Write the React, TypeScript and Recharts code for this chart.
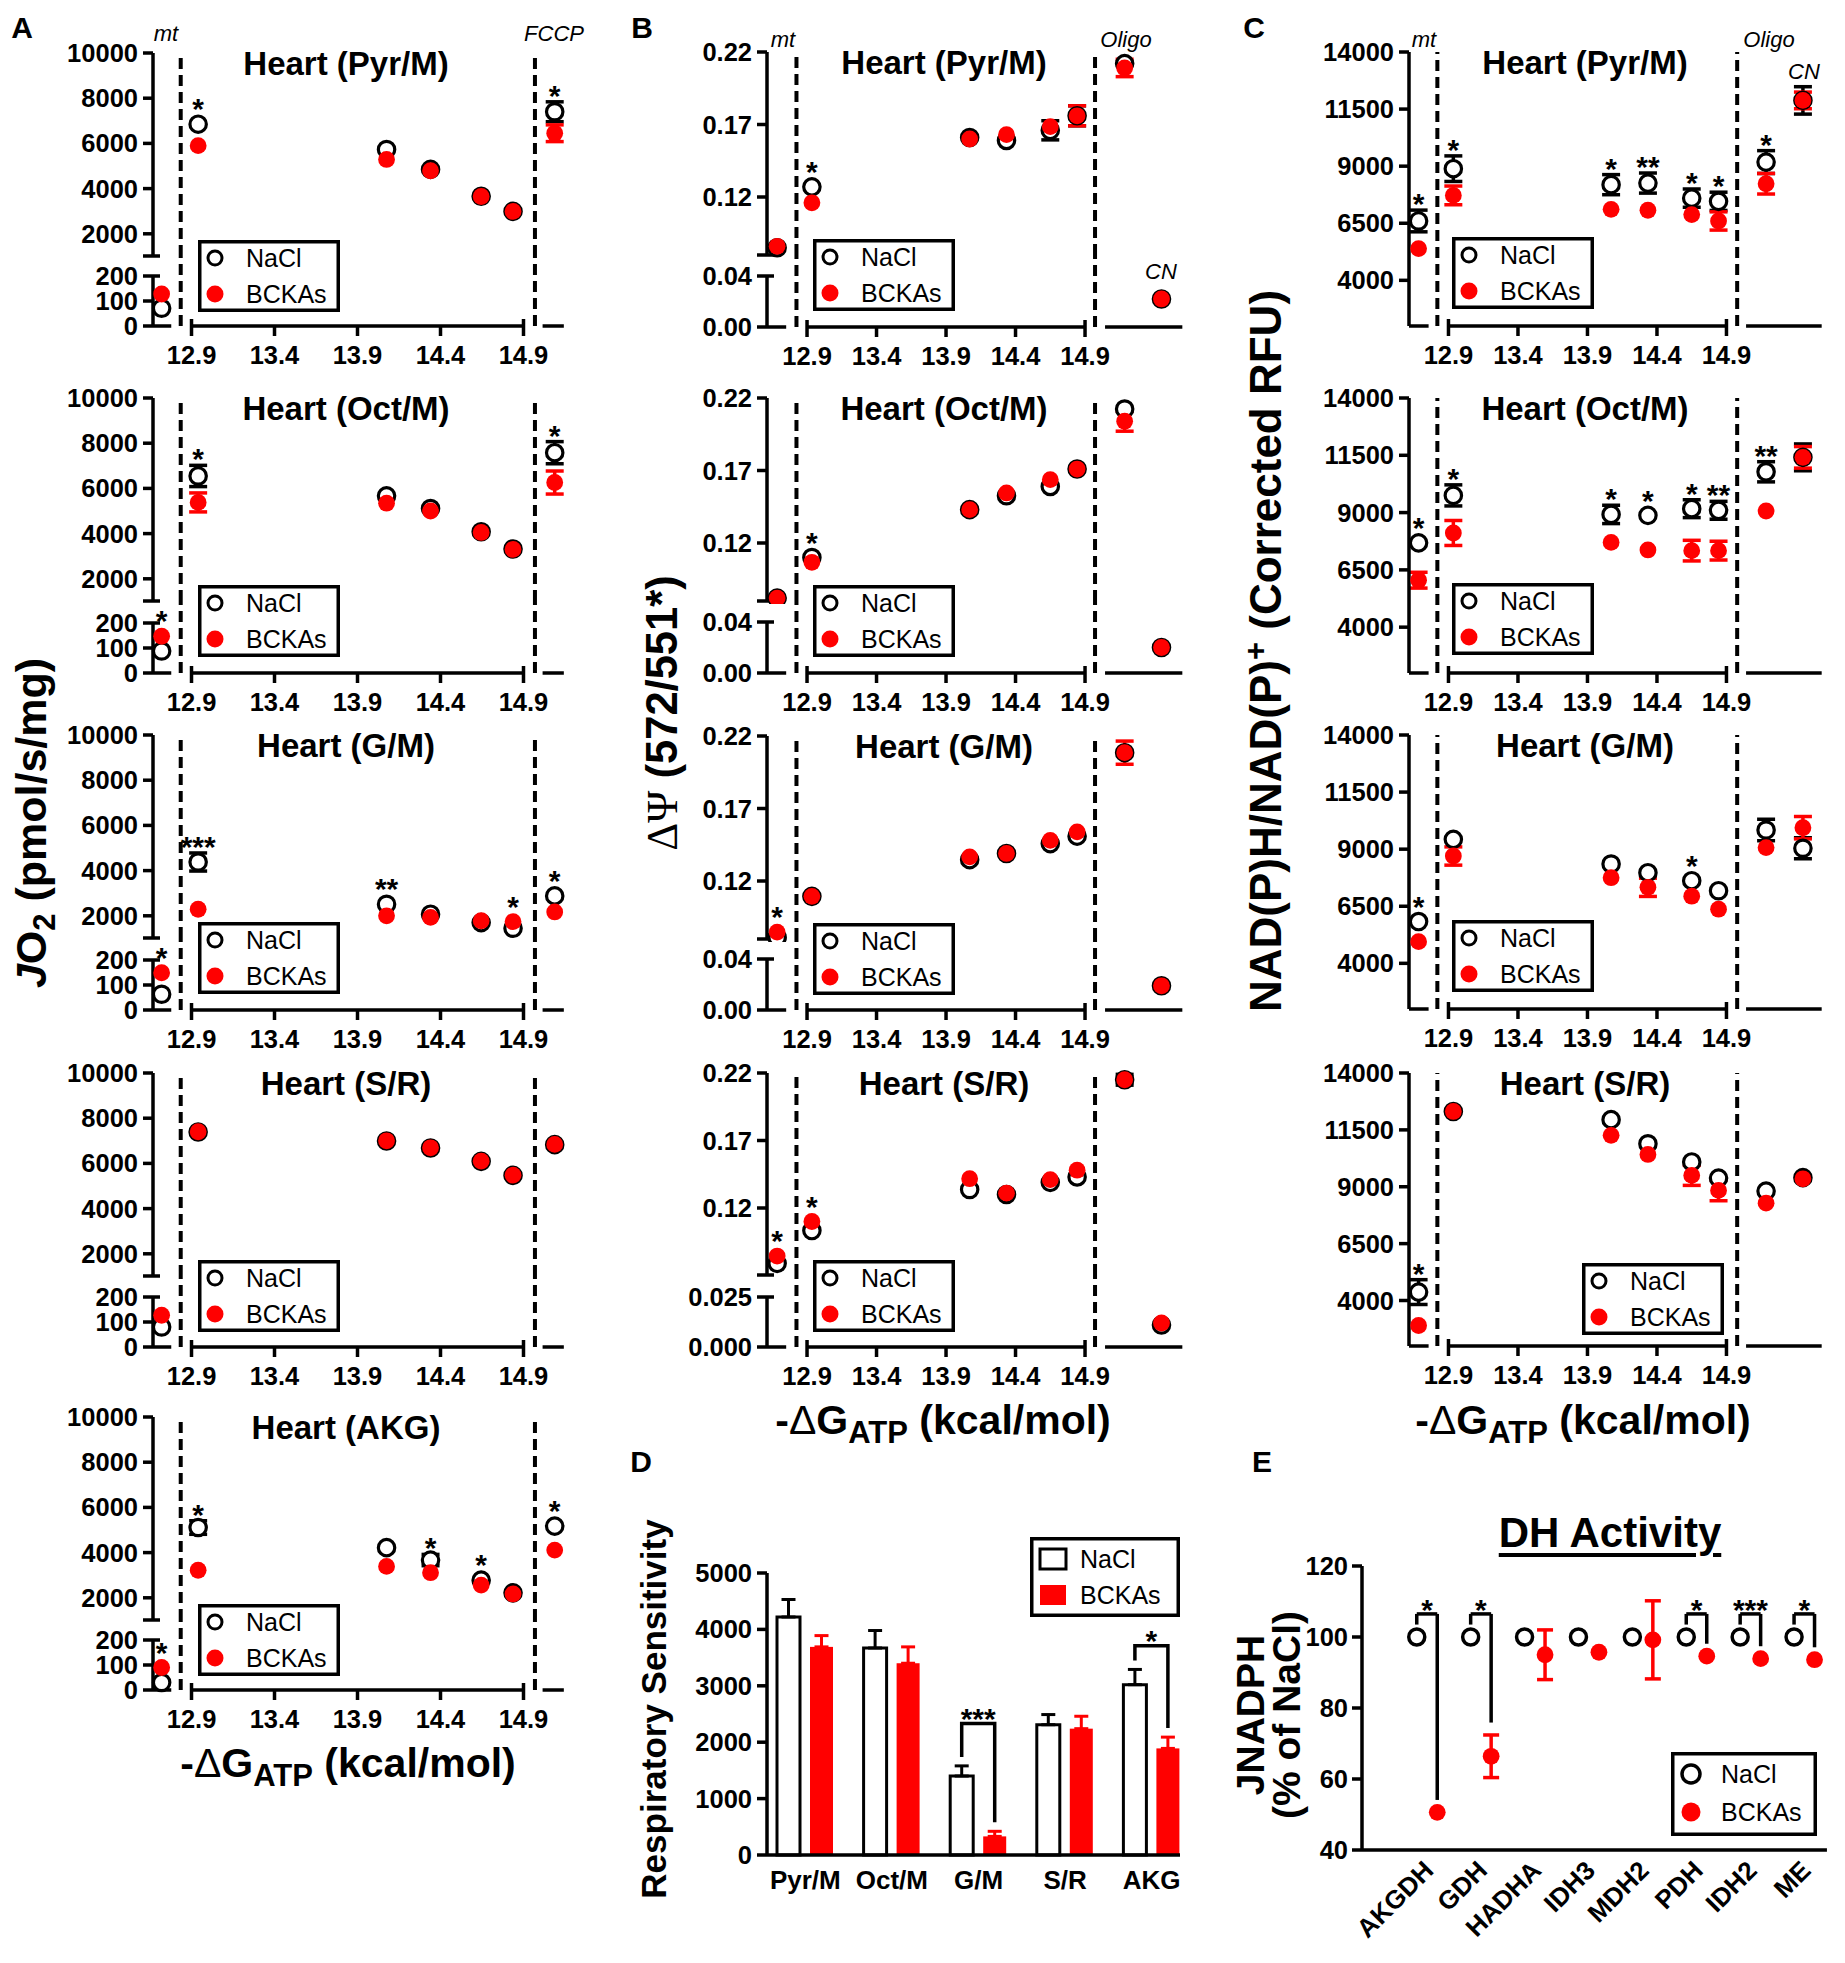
import React from "react";
import {
  Bar,
  BarChart,
  ErrorBar,
  Legend,
  ReferenceLine,
  Scatter,
  ScatterChart,
  XAxis,
  YAxis,
} from "recharts";

const FONT = '"Liberation Sans", Arial, Helvetica, sans-serif';
const RED = "#ff0000";
const INK = "#000000";
const YW = 95;
const XH = 52;
const MR = 14;
const TICK = { fill: INK, fontSize: 25.5, fontWeight: 700, fontFamily: FONT };
const CAT_TICK = { fill: INK, fontSize: 26, fontWeight: 700, fontFamily: FONT };
const AXIS = { stroke: INK, strokeWidth: 3.5 };
const TLINE = { stroke: INK, strokeWidth: 3.5 };

/* ---------------- data ---------------- */
const X_TICKS = [12.9, 13.4, 13.9, 14.4, 14.9];
// -ΔG_ATP position of each state. A: mt, 5 clamp steps, FCCP
const XA = [12.72, 12.94, 14.075, 14.34, 14.645, 14.837, 15.088];
// B and C: mt, 5 clamp steps, Oligo, CN
const XBC = [12.685, 12.935, 14.07, 14.335, 14.65, 14.843, 15.185, 15.45];

// A: JO2 (pmol/s/mg)
const A_TITLES = ["Heart (Pyr/M)", "Heart (Oct/M)", "Heart (G/M)", "Heart (S/R)", "Heart (AKG)"];
const A_PYR_N = [71, 6850, 5730, 4850, 3660, 2990, 7400];
const A_PYR_NE = [0, 0, 0, 0, 0, 0, 440];
const A_PYR_B = [128, 5900, 5290, 4790, 3650, 2990, 6450];
const A_PYR_BE = [0, 0, 0, 0, 0, 0, 370];
const A_PYR_SIG = ["", "*", "", "", "", "", "*"];

const A_OCT_N = [88, 6550, 5670, 5110, 4080, 3320, 7580];
const A_OCT_NE = [0, 470, 0, 0, 0, 0, 490];
const A_OCT_B = [147, 5380, 5345, 5000, 4050, 3300, 6260];
const A_OCT_BE = [0, 420, 0, 0, 0, 0, 510];
const A_OCT_SIG = ["*", "*", "", "", "", "", "*"];

const A_GM_N = [63, 4380, 2510, 2070, 1700, 1450, 2880];
const A_GM_NE = [0, 400, 0, 0, 0, 0, 0];
const A_GM_B = [149, 2290, 2000, 1930, 1780, 1740, 2170];
const A_GM_BE = [0, 0, 0, 0, 0, 0, 0];
const A_GM_SIG = ["*", "***", "**", "", "", "*", "*"];

const A_SR_N = [80, 7390, 6990, 6680, 6090, 5470, 6830];
const A_SR_NE = [0, 0, 0, 0, 0, 0, 0];
const A_SR_B = [127, 7400, 7000, 6690, 6100, 5480, 6840];
const A_SR_BE = [0, 0, 0, 0, 0, 0, 0];
const A_SR_SIG = ["", "", "", "", "", "", ""];

const A_AKG_N = [30, 5110, 4220, 3670, 2780, 2220, 5170];
const A_AKG_NE = [0, 300, 0, 250, 0, 0, 0];
const A_AKG_B = [90, 3220, 3390, 3110, 2560, 2170, 4110];
const A_AKG_BE = [0, 0, 0, 0, 0, 0, 0];
const A_AKG_SIG = ["*", "*", "", "*", "*", "", "*"];

// B: ΔΨ (572/551*)
const B_TITLES = ["Heart (Pyr/M)", "Heart (Oct/M)", "Heart (G/M)", "Heart (S/R)"];
const B_PYR_N = [0.085, 0.127, 0.161, 0.159, 0.166, 0.176, 0.212, 0.022];
const B_PYR_NE = [0, 0, 0, 0, 0.0066, 0.0069, 0, 0];
const B_PYR_B = [0.086, 0.116, 0.16, 0.163, 0.1685, 0.176, 0.209, 0.022];
const B_PYR_BE = [0, 0, 0, 0, 0, 0.0069, 0.006, 0];
const B_PYR_SIG = ["", "*", "", "", "", "", "", ""];

const B_OCT_N = [0.082, 0.11, 0.143, 0.1526, 0.159, 0.171, 0.2124, 0.02];
const B_OCT_NE = [0, 0, 0, 0, 0, 0, 0, 0];
const B_OCT_B = [0.082, 0.1067, 0.143, 0.1545, 0.1637, 0.171, 0.204, 0.02];
const B_OCT_BE = [0, 0, 0, 0, 0, 0, 0.0069, 0];
const B_OCT_SIG = ["", "*", "", "", "", "", "", ""];

const B_GM_N = [0.081, 0.1094, 0.1347, 0.139, 0.1458, 0.1509, 0.2085, 0.019];
const B_GM_NE = [0, 0, 0, 0, 0, 0, 0, 0];
const B_GM_B = [0.0847, 0.1094, 0.1366, 0.139, 0.148, 0.1539, 0.2085, 0.019];
const B_GM_BE = [0, 0, 0, 0, 0, 0, 0.008, 0];
const B_GM_SIG = ["*", "", "", "", "", "", "", ""];

const B_SR_N = [0.079, 0.1033, 0.1337, 0.13, 0.139, 0.143, 0.215, 0.011];
const B_SR_NE = [0, 0, 0, 0, 0, 0, 0.004, 0];
const B_SR_B = [0.0844, 0.11, 0.1417, 0.131, 0.141, 0.148, 0.215, 0.012];
const B_SR_BE = [0, 0, 0, 0, 0, 0, 0, 0];
const B_SR_SIG = ["*", "*", "", "", "", "", "", ""];

// C: NAD(P)H/NAD(P)+ (Corrected RFU)
const C_TITLES = ["Heart (Pyr/M)", "Heart (Oct/M)", "Heart (G/M)", "Heart (S/R)"];
const C_PYR_N = [6600, 8890, 8190, 8260, 7600, 7460, 9180, 11880];
const C_PYR_NE = [475, 560, 440, 440, 400, 400, 500, 600];
const C_PYR_B = [5390, 7720, 7110, 7070, 6880, 6600, 8230, 11880];
const C_PYR_BE = [0, 410, 0, 0, 0, 400, 450, 365];
const C_PYR_SIG = ["*", "*", "*", "**", "*", "*", "*", ""];

const C_OCT_N = [7680, 9750, 8920, 8880, 9170, 9100, 10780, 11410];
const C_OCT_NE = [0, 460, 400, 0, 390, 390, 440, 585];
const C_OCT_B = [6050, 8110, 7700, 7370, 7340, 7340, 9070, 11410];
const C_OCT_BE = [345, 545, 0, 0, 450, 410, 0, 470];
const C_OCT_SIG = ["*", "*", "*", "*", "*", "**", "**", ""];

const C_GM_N = [5830, 9430, 8350, 7970, 7620, 7180, 9840, 9040];
const C_GM_NE = [0, 0, 0, 0, 0, 0, 470, 460];
const C_GM_B = [4950, 8700, 7750, 7330, 6940, 6370, 9070, 9940];
const C_GM_BE = [0, 400, 0, 400, 0, 0, 0, 490];
const C_GM_SIG = ["*", "", "", "", "*", "", "", ""];

const C_SR_N = [4370, 12310, 11950, 10890, 10090, 9380, 8810, 9400];
const C_SR_NE = [545, 0, 0, 0, 0, 0, 0, 0];
const C_SR_B = [2900, 12310, 11260, 10420, 9500, 8840, 8280, 9350];
const C_SR_BE = [0, 0, 0, 0, 440, 455, 0, 0];
const C_SR_SIG = ["*", "", "", "", "", "", "", ""];

// D: respiratory sensitivity
const D_CATS = ["Pyr/M", "Oct/M", "G/M", "S/R", "AKG"];
const D_NACL = [4220, 3670, 1400, 2310, 3020];
const D_NACL_ERR = [310, 310, 180, 180, 270];
const D_BCKA = [3690, 3400, 330, 2240, 1890];
const D_BCKA_ERR = [200, 290, 90, 220, 200];
const D_SIG = ["", "", "***", "", "*"];
const D_BRACKET = [0, 0, 2330, 0, 3710];

// E: DH activity, JNADPH (% of NaCl)
const E_CATS = ["AKGDH", "GDH", "HADHA", "IDH3", "MDH2", "PDH", "IDH2", "ME"];
const E_NACL = [100, 100, 100, 100, 100, 100, 100, 100];
const E_BCKA = [50.6, 66.4, 95, 95.7, 99.2, 94.6, 93.9, 93.6];
const E_BCKA_ERR = [0, 6, 7, 0, 11, 0, 0, 0];
const E_SIG = ["*", "*", "", "", "", "*", "***", "*"];

type Series = { n: number[]; ne: number[]; b: number[]; be: number[]; sig: string[] };
const A_ROWS: Series[] = [
  { n: A_PYR_N, ne: A_PYR_NE, b: A_PYR_B, be: A_PYR_BE, sig: A_PYR_SIG },
  { n: A_OCT_N, ne: A_OCT_NE, b: A_OCT_B, be: A_OCT_BE, sig: A_OCT_SIG },
  { n: A_GM_N, ne: A_GM_NE, b: A_GM_B, be: A_GM_BE, sig: A_GM_SIG },
  { n: A_SR_N, ne: A_SR_NE, b: A_SR_B, be: A_SR_BE, sig: A_SR_SIG },
  { n: A_AKG_N, ne: A_AKG_NE, b: A_AKG_B, be: A_AKG_BE, sig: A_AKG_SIG },
];
const B_ROWS: Series[] = [
  { n: B_PYR_N, ne: B_PYR_NE, b: B_PYR_B, be: B_PYR_BE, sig: B_PYR_SIG },
  { n: B_OCT_N, ne: B_OCT_NE, b: B_OCT_B, be: B_OCT_BE, sig: B_OCT_SIG },
  { n: B_GM_N, ne: B_GM_NE, b: B_GM_B, be: B_GM_BE, sig: B_GM_SIG },
  { n: B_SR_N, ne: B_SR_NE, b: B_SR_B, be: B_SR_BE, sig: B_SR_SIG },
];
const C_ROWS: Series[] = [
  { n: C_PYR_N, ne: C_PYR_NE, b: C_PYR_B, be: C_PYR_BE, sig: C_PYR_SIG },
  { n: C_OCT_N, ne: C_OCT_NE, b: C_OCT_B, be: C_OCT_BE, sig: C_OCT_SIG },
  { n: C_GM_N, ne: C_GM_NE, b: C_GM_B, be: C_GM_BE, sig: C_GM_SIG },
  { n: C_SR_N, ne: C_SR_NE, b: C_SR_B, be: C_SR_BE, sig: C_SR_SIG },
];

/* ---------------- layout ---------------- */
const A_TOP = [53, 398, 735, 1073, 1417];
const A_ZERO = [326, 673, 1010, 1347, 1690];
const B_TOP = [52, 398, 736, 1073];
const B_ZERO = [327, 673, 1010, 1347];
const C_TOP = [52, 398, 735, 1073];
const C_ZERO = [326, 673, 1009, 1346];

const A_LEFT = 152.7;
const A_XD: [number, number] = [12.668, 15.2];
const A_PX = 166;
const B_LEFT = 766.7;
const B_XD: [number, number] = [12.612, 15.62];
const C_LEFT = 1408.7;
const C_XD: [number, number] = [12.616, 15.62];
const BC_PX = 139;

/* ---------------- shapes ---------------- */
const Ring = (s: any) =>
  s.cx == null ? null : <circle cx={s.cx} cy={s.cy} r={8.2} fill="#fff" stroke={INK} strokeWidth={3.2} />;
const Dot = (s: any) => (s.cx == null ? null : <circle cx={s.cx} cy={s.cy} r={8.4} fill={RED} />);
const Star = (s: any) => {
  if (s.cx == null) return null;
  const top = s.cy - (s.payload.err ? 1 : 9.8);
  return (
    <text x={s.cx} y={top + 5} textAnchor="middle" fontSize={30} fontWeight={700} fontFamily={FONT} fill={INK}>
      {s.payload.s}
    </text>
  );
};

const ScatterKey = () => (
  <svg width={142} height={72} style={{ display: "block" }}>
    <rect x={1.75} y={1.75} width={138.5} height={68.5} fill="#fff" stroke={INK} strokeWidth={3.5} />
    <circle cx={17} cy={18} r={7} fill="#fff" stroke={INK} strokeWidth={3} />
    <text x={48} y={27} fontSize={25} fontFamily={FONT} fill={INK}>NaCl</text>
    <circle cx={17} cy={54} r={8.5} fill={RED} />
    <text x={48} y={63} fontSize={25} fontFamily={FONT} fill={INK}>BCKAs</text>
  </svg>
);

function pts(xs: number[], v: number[], e: number[], idx: number[]) {
  return idx.map((i) => ({ x: xs[i], y: v[i], e: e[i] }));
}
function starPts(xs: number[], s: Series, idx: number[]) {
  return idx
    .filter((i) => s.sig[i])
    .map((i) => {
      const tn = s.n[i] + s.ne[i];
      const tb = s.b[i] + s.be[i];
      return { x: xs[i], y: Math.max(tn, tb), s: s.sig[i], err: (tn >= tb ? s.ne[i] : s.be[i]) > 0 };
    });
}

type BandProps = {
  left: number;
  top: number;
  w: number;
  h: number;
  xDomain: [number, number];
  yDomain: [number, number];
  yTicks: number[];
  fmt: (v: number) => string;
  yAxisLine: boolean;
  ySeg?: [number, number];
  rightCaps: number[];
  showX: boolean;
  xSegs: [number, number][];
  dashes: number[];
  nacl: any[];
  bcka: any[];
  stars: any[];
  mt: number;
  mb: number;
  legend?: { x: number; y: number };
};

function Band(p: BandProps) {
  const chartW = YW + p.w + MR;
  const chartH = p.mt + p.h + (p.showX ? XH : p.mb);
  const pxX = p.w / (p.xDomain[1] - p.xDomain[0]);
  const pxY = p.h / (p.yDomain[1] - p.yDomain[0]);
  const x0 = p.xDomain[0];
  const y0 = p.yDomain[0];
  const capDX = 7 / pxX;
  const upDY = 7 / pxY;
  const cLeft = p.left - YW;
  const cTop = p.top - p.mt;
  return (
    <div style={{ position: "absolute", left: cLeft, top: cTop }}>
      <ScatterChart
        width={chartW}
        height={chartH}
        margin={{ top: p.mt, right: MR, bottom: p.showX ? 0 : p.mb, left: 0 }}
      >
        <XAxis
          type="number"
          dataKey="x"
          domain={p.xDomain}
          hide={!p.showX}
          ticks={X_TICKS}
          interval={0}
          axisLine={false}
          tickLine={TLINE}
          tickSize={10}
          tickMargin={10}
          height={XH}
          tick={TICK}
          tickFormatter={(v: number) => v.toFixed(1)}
        />
        <YAxis
          type="number"
          dataKey="y"
          domain={p.yDomain}
          ticks={p.yTicks}
          interval={0}
          width={YW}
          axisLine={p.yAxisLine ? AXIS : false}
          tickLine={TLINE}
          tickSize={10}
          tickMargin={5}
          tick={TICK}
          tickFormatter={p.fmt}
        />
        {p.dashes.map((d) => (
          <ReferenceLine key={"d" + d} x={d} stroke={INK} strokeWidth={4} strokeDasharray="11 6" ifOverflow="visible" />
        ))}
        {p.ySeg && (
          <ReferenceLine
            segment={[
              { x: x0, y: p.ySeg[0] },
              { x: x0, y: p.ySeg[1] },
            ]}
            stroke={INK}
            strokeWidth={3.5}
            ifOverflow="visible"
          />
        )}
        {p.rightCaps.map((c) => (
          <ReferenceLine
            key={"c" + c}
            segment={[
              { x: x0, y: c },
              { x: x0 + capDX, y: c },
            ]}
            stroke={INK}
            strokeWidth={3.5}
            ifOverflow="visible"
          />
        ))}
        {p.xSegs.map((s, i) => (
          <ReferenceLine
            key={"s" + i}
            segment={[
              { x: s[0], y: y0 },
              { x: s[1], y: y0 },
            ]}
            stroke={INK}
            strokeWidth={3.5}
            ifOverflow="visible"
          />
        ))}
        {p.showX &&
          [12.9, 14.9].map((t) => (
            <ReferenceLine
              key={"u" + t}
              segment={[
                { x: t, y: y0 },
                { x: t, y: y0 + upDY },
              ]}
              stroke={INK}
              strokeWidth={3.5}
              ifOverflow="visible"
            />
          ))}
        <Scatter data={p.nacl} shape={Ring} isAnimationActive={false}>
          <ErrorBar dataKey="e" direction="y" width={9} stroke={INK} strokeWidth={3.5} />
        </Scatter>
        <Scatter data={p.bcka} shape={Dot} isAnimationActive={false}>
          <ErrorBar dataKey="e" direction="y" width={9} stroke={RED} strokeWidth={3.5} />
        </Scatter>
        <Scatter data={p.stars} shape={Star} isAnimationActive={false} />
        {p.legend && (
          <Legend
            layout="vertical"
            align="center"
            verticalAlign="middle"
            wrapperStyle={{ left: p.legend.x - cLeft, top: p.legend.y - cTop, width: 142, height: 72, zIndex: 3 }}
            content={() => <ScatterKey />}
          />
        )}
      </ScatterChart>
    </div>
  );
}

const Txt = ({ x, y, size, children, style }: any) => (
  <div
    style={{
      position: "absolute",
      left: x,
      top: y,
      transform: "translate(-50%, -50%)",
      whiteSpace: "nowrap",
      fontFamily: FONT,
      fontSize: size,
      fontWeight: 700,
      lineHeight: 1,
      color: INK,
      ...style,
    }}
  >
    {children}
  </div>
);
const VTxt = ({ x, y, size, children, style }: any) => (
  <Txt x={x} y={y} size={size} style={{ transform: "translate(-50%, -50%) rotate(-90deg)", ...style }}>
    {children}
  </Txt>
);
const Italic = ({ x, y, children }: any) => (
  <Txt x={x} y={y} size={22} style={{ fontWeight: 400, fontStyle: "italic" }}>
    {children}
  </Txt>
);

const fmtInt = (cap: number) => (v: number) => (Math.abs(v - cap) < 1e-6 ? "" : String(v));
const fmtDec = (cap: number, d: number) => (v: number) => (Math.abs(v - cap) < 1e-9 ? "" : v.toFixed(d));

function PanelA({ r }: { r: number }) {
  const s = A_ROWS[r];
  const T = A_TOP[r];
  const Z = A_ZERO[r];
  const upH = 203;
  const cap = 10000 - (upH / 22.6) * 1000;
  const lowH = Z - T - upH;
  const w = (A_XD[1] - A_XD[0]) * A_PX;
  const up = [1, 2, 3, 4, 5, 6];
  const low = [0];
  const dashes = [12.835, 14.969];
  return (
    <>
      <Band
        left={A_LEFT}
        top={T}
        w={w}
        h={upH}
        xDomain={A_XD}
        yDomain={[cap, 10000]}
        yTicks={[cap, 2000, 4000, 6000, 8000, 10000]}
        fmt={fmtInt(cap)}
        yAxisLine
        rightCaps={[cap]}
        showX={false}
        xSegs={[]}
        dashes={dashes}
        nacl={pts(XA, s.n, s.ne, up)}
        bcka={pts(XA, s.b, s.be, up)}
        stars={starPts(XA, s, up)}
        mt={18}
        mb={3}
        legend={{ x: 198, y: T + 187 }}
      />
      <Band
        left={A_LEFT}
        top={T + upH}
        w={w}
        h={lowH}
        xDomain={A_XD}
        yDomain={[0, lowH * 4]}
        yTicks={[0, 100, 200]}
        fmt={(v) => String(v)}
        yAxisLine={false}
        ySeg={[0, 200]}
        rightCaps={[200]}
        showX
        xSegs={[
          [A_XD[0], 12.778],
          [12.9, 14.9],
          [15.015, 15.143],
        ]}
        dashes={dashes}
        nacl={pts(XA, s.n, s.ne, low)}
        bcka={pts(XA, s.b, s.be, low)}
        stars={starPts(XA, s, low)}
        mt={0}
        mb={0}
      />
      <Txt x={346} y={T + 10} size={33}>
        {A_TITLES[r]}
      </Txt>
    </>
  );
}

function PanelB({ r }: { r: number }) {
  const s = B_ROWS[r];
  const T = B_TOP[r];
  const Z = B_ZERO[r];
  const last = r === 3;
  const upH = last ? 202 : 203;
  const upPx = last ? 1350 : 1450;
  const cap = 0.22 - upH / upPx;
  const lowH = Z - T - upH;
  const lowPx = last ? 2000 : 1275;
  const lowTop = last ? 0.025 : 0.04;
  const w = (B_XD[1] - B_XD[0]) * BC_PX;
  const up = [0, 1, 2, 3, 4, 5, 6];
  const low = [7];
  const dashes = [12.824, 14.972];
  return (
    <>
      <Band
        left={B_LEFT}
        top={T}
        w={w}
        h={upH}
        xDomain={B_XD}
        yDomain={[cap, 0.22]}
        yTicks={[cap, 0.12, 0.17, 0.22]}
        fmt={fmtDec(cap, 2)}
        yAxisLine
        rightCaps={[cap]}
        showX={false}
        xSegs={[]}
        dashes={dashes}
        nacl={pts(XBC, s.n, s.ne, up)}
        bcka={pts(XBC, s.b, s.be, up)}
        stars={starPts(XBC, s, up)}
        mt={18}
        mb={3}
        legend={{ x: 813, y: T + 187 }}
      />
      <Band
        left={B_LEFT}
        top={T + upH}
        w={w}
        h={lowH}
        xDomain={B_XD}
        yDomain={[0, lowH / lowPx]}
        yTicks={[0, lowTop]}
        fmt={(v) => v.toFixed(last ? 3 : 2)}
        yAxisLine={false}
        ySeg={[0, lowTop]}
        rightCaps={[lowTop]}
        showX
        xSegs={[
          [B_XD[0], 12.75],
          [12.9, 14.9],
          [15.044, 15.6],
        ]}
        dashes={dashes}
        nacl={pts(XBC, s.n, s.ne, low)}
        bcka={pts(XBC, s.b, s.be, low)}
        stars={starPts(XBC, s, low)}
        mt={0}
        mb={0}
      />
      <Txt x={944} y={T + 10} size={33}>
        {B_TITLES[r]}
      </Txt>
    </>
  );
}

function PanelC({ r }: { r: number }) {
  const s = C_ROWS[r];
  const T = C_TOP[r];
  const Z = C_ZERO[r];
  const w = (C_XD[1] - C_XD[0]) * BC_PX;
  const all = [0, 1, 2, 3, 4, 5, 6, 7];
  return (
    <>
      <Band
        left={C_LEFT}
        top={T}
        w={w}
        h={Z - T}
        xDomain={C_XD}
        yDomain={[2000, 14000]}
        yTicks={[4000, 6500, 9000, 11500, 14000]}
        fmt={(v) => String(v)}
        yAxisLine
        rightCaps={[]}
        showX
        xSegs={[
          [C_XD[0], 12.757],
          [12.9, 14.9],
          [15.041, 15.585],
        ]}
        dashes={[12.82, 14.977]}
        nacl={pts(XBC, s.n, s.ne, all)}
        bcka={pts(XBC, s.b, s.be, all)}
        stars={starPts(XBC, s, all)}
        mt={18}
        mb={0}
        legend={r === 3 ? { x: 1582, y: T + 190 } : { x: 1452, y: T + 185 }}
      />
      <Txt x={1585} y={T + 10} size={33}>
        {C_TITLES[r]}
      </Txt>
    </>
  );
}

/* ---------------- D ---------------- */
const dData = D_CATS.map((c, i) => ({
  cat: c,
  n: D_NACL[i],
  ne: [0, D_NACL_ERR[i]],
  b: D_BCKA[i],
  be: [0, D_BCKA_ERR[i]],
  sig: D_SIG[i],
  br: D_BRACKET[i],
}));

const BckaBar = (p: any) => {
  const { x, y, width, height, payload } = p;
  if (x == null) return null;
  const parts: any[] = [<rect key="r" x={x} y={y} width={width} height={height} fill={RED} />];
  if (payload.sig) {
    const k = height / payload.b;
    const base = y + height;
    const nTop = base - (payload.n + payload.ne[1]) * k;
    const bTop = base - (payload.b + payload.be[1]) * k;
    const nx = x - 10 - width / 2;
    const bx = x + width / 2;
    const hy = base - payload.br * k;
    parts.push(
      <path
        key="k"
        d={`M${nx},${nTop - 9} V${hy} H${bx} V${bTop - 9}`}
        fill="none"
        stroke={INK}
        strokeWidth={3.5}
      />,
      <text
        key="t"
        x={(nx + bx) / 2}
        y={hy + 5}
        textAnchor="middle"
        fontSize={30}
        fontWeight={700}
        fontFamily={FONT}
        fill={INK}
      >
        {payload.sig}
      </text>
    );
  }
  return <g>{parts}</g>;
};

const BarKey = () => (
  <svg width={150} height={80} style={{ display: "block" }}>
    <rect x={1.75} y={1.75} width={146.5} height={76.5} fill="#fff" stroke={INK} strokeWidth={3.5} />
    <rect x={10} y={12} width={26} height={20} fill="#fff" stroke={INK} strokeWidth={3} />
    <text x={50} y={31} fontSize={25} fontFamily={FONT} fill={INK}>NaCl</text>
    <rect x={10} y={48} width={26} height={20} fill={RED} />
    <text x={50} y={67} fontSize={25} fontFamily={FONT} fill={INK}>BCKAs</text>
  </svg>
);

function PanelD() {
  const left = 767;
  const top = 1573;
  const h = 282;
  const w = 413;
  const mt = 40;
  return (
    <div style={{ position: "absolute", left: left - YW, top: top - mt }}>
      <BarChart
        width={YW + w + 25}
        height={mt + h + 55}
        data={dData}
        margin={{ top: mt, right: 25, bottom: 0, left: 0 }}
        barGap={10}
        barSize={23}
      >
        <XAxis
          dataKey="cat"
          axisLine={AXIS}
          tickLine={false}
          tick={CAT_TICK}
          height={55}
          tickMargin={10}
          interval={0}
          padding={{ left: -5, right: -15 }}
        />
        <YAxis
          type="number"
          domain={[0, 5000]}
          ticks={[0, 1000, 2000, 3000, 4000, 5000]}
          interval={0}
          width={YW}
          axisLine={AXIS}
          tickLine={TLINE}
          tickSize={10}
          tickMargin={5}
          tick={TICK}
        />
        <Bar dataKey="n" fill="#fff" stroke={INK} strokeWidth={3} isAnimationActive={false}>
          <ErrorBar dataKey="ne" direction="y" width={7} stroke={INK} strokeWidth={3} />
        </Bar>
        <Bar dataKey="b" fill={RED} shape={BckaBar} isAnimationActive={false}>
          <ErrorBar dataKey="be" direction="y" width={7} stroke={RED} strokeWidth={3} />
        </Bar>
        <Legend
          layout="vertical"
          align="center"
          verticalAlign="middle"
          wrapperStyle={{ left: 1030 - (left - YW), top: 1537 - (top - mt), width: 150, height: 80 }}
          content={() => <BarKey />}
        />
      </BarChart>
    </div>
  );
}

/* ---------------- E ---------------- */
const E_OFF = 0.19;
const eNacl = E_CATS.map((_, i) => ({ x: i - E_OFF, y: E_NACL[i], e: 0 }));
const eBcka = E_CATS.map((_, i) => ({ x: i + E_OFF, y: E_BCKA[i], e: E_BCKA_ERR[i] }));
const E_BR = 106.5;
const eStars = E_CATS.map((_, i) => ({ x: i, y: E_BR, s: E_SIG[i] })).filter((d) => d.s);

const ETick = (p: any) => {
  const { x, y, payload } = p;
  const ax = x + 8;
  const ay = y + 14;
  return (
    <text
      x={ax}
      y={ay}
      transform={`rotate(-45 ${ax} ${ay})`}
      textAnchor="end"
      fill={INK}
      fontSize={26}
      fontWeight={700}
      fontFamily={FONT}
    >
      {E_CATS[payload.value]}
    </text>
  );
};

const ERing = (s: any) =>
  s.cx == null ? null : <circle cx={s.cx} cy={s.cy} r={8} fill="#fff" stroke={INK} strokeWidth={3.5} />;
const EStar = (s: any) =>
  s.cx == null ? null : (
    <text x={s.cx} y={s.cy + 6} textAnchor="middle" fontSize={30} fontWeight={700} fontFamily={FONT} fill={INK}>
      {s.payload.s}
    </text>
  );

const EKey = () => (
  <svg width={146} height={84} style={{ display: "block" }}>
    <rect x={1.75} y={1.75} width={142.5} height={80.5} fill="#fff" stroke={INK} strokeWidth={3.5} />
    <circle cx={20} cy={22} r={9} fill="#fff" stroke={INK} strokeWidth={3.5} />
    <text x={50} y={31} fontSize={25} fontFamily={FONT} fill={INK}>NaCl</text>
    <circle cx={20} cy={60} r={9.5} fill={RED} />
    <text x={50} y={69} fontSize={25} fontFamily={FONT} fill={INK}>BCKAs</text>
  </svg>
);

function PanelE() {
  const left = 1362;
  const top = 1566;
  const h = 284;
  const xd: [number, number] = [-1.206, 7.42];
  const w = (xd[1] - xd[0]) * 53.9;
  const mt = 40;
  const seg = (key: string, a: { x: number; y: number }, b: { x: number; y: number }) => (
    <ReferenceLine key={key} segment={[a, b]} stroke={INK} strokeWidth={3.5} ifOverflow="visible" />
  );
  return (
    <div style={{ position: "absolute", left: left - YW, top: top - mt }}>
      <ScatterChart width={YW + w + 10} height={mt + h + 110} margin={{ top: mt, right: 10, bottom: 0, left: 0 }}>
        <XAxis
          type="number"
          dataKey="x"
          domain={xd}
          ticks={[0, 1, 2, 3, 4, 5, 6, 7]}
          interval={0}
          axisLine={AXIS}
          tickLine={false}
          tick={<ETick />}
          height={110}
        />
        <YAxis
          type="number"
          dataKey="y"
          domain={[40, 120]}
          ticks={[40, 60, 80, 100, 120]}
          interval={0}
          width={YW}
          axisLine={AXIS}
          tickLine={TLINE}
          tickSize={10}
          tickMargin={4}
          tick={TICK}
        />
        {E_SIG.flatMap((sg, i) =>
          sg
            ? [
                seg("h" + i, { x: i - E_OFF, y: E_BR }, { x: i + E_OFF, y: E_BR }),
                seg("l" + i, { x: i - E_OFF, y: E_BR }, { x: i - E_OFF, y: 103.5 }),
                seg("r" + i, { x: i + E_OFF, y: E_BR }, { x: i + E_OFF, y: E_BCKA[i] + E_BCKA_ERR[i] + 3.5 }),
              ]
            : []
        )}
        <Scatter data={eNacl} shape={ERing} isAnimationActive={false} />
        <Scatter data={eBcka} shape={Dot} isAnimationActive={false}>
          <ErrorBar dataKey="e" direction="y" width={8} stroke={RED} strokeWidth={3.5} />
        </Scatter>
        <Scatter data={eStars} shape={EStar} isAnimationActive={false} />
        <Legend
          layout="vertical"
          align="center"
          verticalAlign="middle"
          wrapperStyle={{ left: 1671 - (left - YW), top: 1752 - (top - mt), width: 146, height: 84 }}
          content={() => <EKey />}
        />
      </ScatterChart>
    </div>
  );
}

const XTitle = ({ x, y }: { x: number; y: number }) => (
  <Txt x={x} y={y} size={41}>
    -<span style={{ fontWeight: 400 }}>Δ</span>G<sub style={{ fontSize: 31, verticalAlign: "-0.3em" }}>ATP</sub> (kcal/mol)
  </Txt>
);

export default function App() {
  return (
    <div
      style={{
        position: "absolute",
        left: 0,
        top: 0,
        width: 1845,
        height: 1963,
        background: "#fff",
        overflow: "hidden",
        fontFamily: FONT,
      }}
    >
      {/* panel letters */}
      <Txt x={22} y={28} size={30}>A</Txt>
      <Txt x={642} y={28} size={30}>B</Txt>
      <Txt x={1254} y={28} size={30}>C</Txt>
      <Txt x={641} y={1462} size={30}>D</Txt>
      <Txt x={1262} y={1462} size={30}>E</Txt>

      {/* state labels */}
      <Italic x={166} y={34}>mt</Italic>
      <Italic x={554} y={34}>FCCP</Italic>
      <Italic x={783} y={40}>mt</Italic>
      <Italic x={1126} y={40}>Oligo</Italic>
      <Italic x={1161} y={272}>CN</Italic>
      <Italic x={1424} y={40}>mt</Italic>
      <Italic x={1769} y={40}>Oligo</Italic>
      <Italic x={1804} y={72}>CN</Italic>

      {/* axis titles */}
      <VTxt x={35} y={823} size={43}>
        <i>J</i>O<sub style={{ fontSize: 31 }}>2</sub> (pmol/s/mg)
      </VTxt>
      <VTxt x={663} y={713} size={43.5}>
        <span style={{ fontFamily: '"Liberation Serif", "DejaVu Serif", serif', fontWeight: 400 }}>ΔΨ</span> (572/551*)
      </VTxt>
      <VTxt x={1264} y={651} size={44}>
        NAD(P)H/NAD(P)<sup style={{ fontSize: 31 }}>+</sup> (Corrected RFU)
      </VTxt>
      <VTxt x={653} y={1709} size={35}>Respiratory Sensitivity</VTxt>
      <VTxt x={1250} y={1715} size={39}>JNADPH</VTxt>
      <VTxt x={1286} y={1715} size={39}>(% of NaCl)</VTxt>
      <XTitle x={348} y={1767} />
      <XTitle x={943} y={1424} />
      <XTitle x={1583} y={1424} />
      <Txt x={1610} y={1533} size={42} style={{ textDecoration: "underline", textDecorationThickness: 4, textUnderlineOffset: 6 }}>
        DH Activity
      </Txt>

      {[0, 1, 2, 3, 4].map((r) => (
        <PanelA key={"a" + r} r={r} />
      ))}
      {[0, 1, 2, 3].map((r) => (
        <PanelB key={"b" + r} r={r} />
      ))}
      {[0, 1, 2, 3].map((r) => (
        <PanelC key={"c" + r} r={r} />
      ))}
      <PanelD />
      <PanelE />
    </div>
  );
}
